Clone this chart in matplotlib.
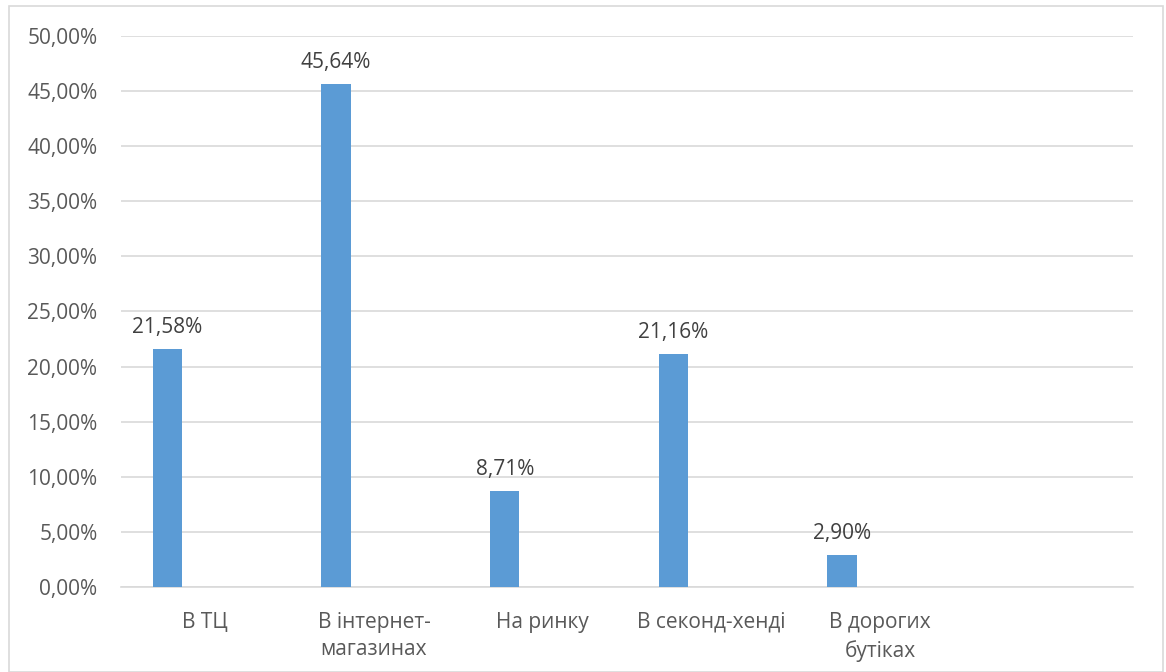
import matplotlib.pyplot as plt
from matplotlib.patches import Rectangle
from matplotlib.ticker import FuncFormatter, MultipleLocator

categories = ["В ТЦ", "В інтернет-\nмагазинах", "На ринку", "В секонд-хенді", "В дорогих\nбутіках", ""]
values = [0.2158, 0.4564, 0.0871, 0.2116, 0.0290]

plt.rcParams['font.family'] = ['Open Sans', 'DejaVu Sans']

fig = plt.figure(figsize=(11.66, 6.72), dpi=100)
ax = fig.add_axes([121 / 1166, 1 - 587 / 672, (1133 - 121) / 1166, (587 - 36) / 672])

# light frame around the whole chart
fig.patches.append(Rectangle((9 / 1166, 0.0), (1163 - 9) / 1166, 1 - 6 / 672,
                             transform=fig.transFigure, fill=False,
                             edgecolor="#d9d9d9", linewidth=1.2))

offset = -0.225
width = 0.175
xs = [i + offset for i in range(len(values))]
bars = ax.bar(xs, values, width=width, color="#5b9bd5", zorder=3)

def pct(v, pos=None):
    return f"{v * 100:.2f}".replace(".", ",") + "%"

fs = 15

for x, v in zip(xs, values):
    ax.annotate(pct(v), (x, v), xytext=(0, 15.5), textcoords="offset points",
                ha="center", va="center", fontsize=fs, color="#404040")

ax.set_xlim(-0.5, len(categories) - 0.5)
ax.set_ylim(0, 0.5)
ax.yaxis.set_major_locator(MultipleLocator(0.05))
ax.yaxis.set_major_formatter(FuncFormatter(pct))
ax.set_xticks(range(len(categories)))
ax.set_xticklabels(categories, fontsize=fs, color="#595959", linespacing=1.4)
ax.tick_params(axis="y", length=0, pad=17, labelsize=fs, labelcolor="#595959")
ax.tick_params(axis="x", length=0, pad=18)

ax.grid(axis="y", color="#d9d9d9", linewidth=1.2, zorder=0)
for side in ["top", "left", "right"]:
    ax.spines[side].set_visible(False)
ax.spines["bottom"].set_color("#d9d9d9")
ax.spines["bottom"].set_linewidth(1.2)

fig.savefig("out.png", dpi=100, facecolor="white")
